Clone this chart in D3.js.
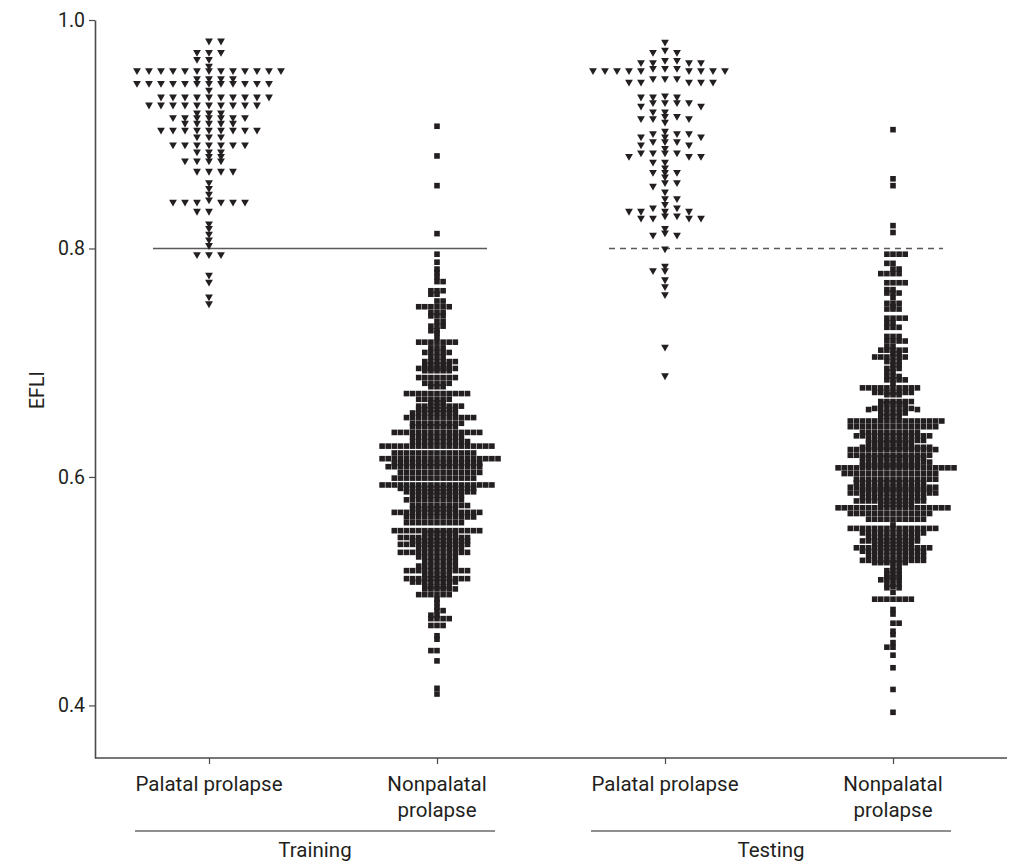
<!DOCTYPE html>
<html>
<head>
<meta charset="utf-8">
<script src="https://cdn.jsdelivr.net/npm/d3@7"></script>
<style>
body { margin: 0; background: #fff; }
svg text { font-family: "Roboto", "DejaVu Sans", sans-serif; fill: #231f20; }
</style>
</head>
<body>
<svg id="svg" width="1014" height="861"></svg>
<script>
// categories along the x axis and their (two line) labels
let categories = ["trainPal", "trainNon", "testPal", "testNon"];
let catLabels = [["Palatal prolapse"], ["Nonpalatal", "prolapse"], ["Palatal prolapse"], ["Nonpalatal", "prolapse"]];
let groupNames = ["Training", "Testing"];
let yTicks = [0.4, 0.6, 0.8, 1.0];
let cutoff = 0.8;

// EFLI values, as [value, number of markers at that value]
let trainPalatal = [
	[0.981,2],[0.971,3],[0.965,2],[0.959,1],[0.955,13],[0.948,4],[0.944,12],[0.938,1],[0.932,10],
	[0.925,10],[0.918,3],[0.914,7],[0.909,5],[0.903,9],[0.897,3],[0.890,7],[0.884,3],[0.880,2],
	[0.876,4],[0.867,4],[0.857,1],[0.852,1],[0.847,1],[0.842,1],[0.840,6],[0.832,2],[0.821,1],
	[0.817,1],[0.812,1],[0.807,1],[0.802,1],[0.794,3],[0.776,1],[0.770,1],[0.757,1],[0.751,1]
];
let trainNonpalatal = [
	[0.907,1],[0.881,1],[0.855,1],[0.813,1],[0.795,1],[0.788,1],[0.782,1],[0.779,1],[0.775,1],
	[0.771,2],[0.763,3],[0.760,2],[0.754,2],[0.749,6],[0.744,3],[0.741,3],[0.736,2],[0.732,3],
	[0.728,2],[0.726,1],[0.722,1],[0.718,7],[0.713,3],[0.709,5],[0.705,3],[0.701,6],[0.698,5],
	[0.695,7],[0.693,5],[0.687,7],[0.682,5],[0.679,3],[0.673,11],[0.668,6],[0.665,3],[0.662,8],
	[0.659,7],[0.656,8],[0.652,12],[0.647,9],[0.644,8],[0.639,15],[0.635,9],[0.631,10],[0.627,19],
	[0.621,14],[0.616,20],[0.612,15],[0.609,16],[0.604,14],[0.599,14],[0.593,19],[0.590,13],
	[0.587,12],[0.584,9],[0.580,10],[0.575,10],[0.572,8],[0.569,15],[0.565,12],[0.560,10],
	[0.553,15],[0.551,6],[0.547,12],[0.544,10],[0.541,12],[0.538,8],[0.534,12],[0.530,7],
	[0.526,6],[0.522,7],[0.518,11],[0.514,5],[0.511,11],[0.508,8],[0.504,5],[0.502,6],[0.497,6],
	[0.493,1],[0.490,1],[0.486,1],[0.483,2],[0.479,2],[0.476,4],[0.470,3],[0.461,1],[0.458,1],
	[0.448,2],[0.439,1],[0.415,1],[0.410,1]
];
let testPalatal = [
	[0.980,1],[0.973,1],[0.971,2],[0.964,2],[0.962,4],[0.957,3],[0.955,9],[0.948,3],[0.945,5],
	[0.933,1],[0.932,3],[0.927,4],[0.924,2],[0.919,2],[0.915,2],[0.913,3],[0.910,1],[0.902,1],
	[0.900,3],[0.897,3],[0.893,3],[0.890,2],[0.887,1],[0.883,4],[0.880,3],[0.875,2],[0.870,1],
	[0.866,3],[0.862,1],[0.857,2],[0.854,1],[0.849,1],[0.843,2],[0.838,1],[0.835,2],[0.832,4],
	[0.828,2],[0.826,4],[0.817,1],[0.813,1],[0.811,2],[0.799,1],[0.784,1],[0.780,2],[0.772,1],
	[0.766,1],[0.759,1],[0.713,1],[0.688,1]
];
let testNonpalatal = [
	[0.904,1],[0.861,1],[0.855,1],[0.820,1],[0.814,1],[0.795,4],[0.787,2],[0.782,2],[0.778,4],
	[0.770,4],[0.764,2],[0.761,3],[0.757,1],[0.752,3],[0.749,1],[0.747,3],[0.739,4],[0.735,2],
	[0.731,3],[0.723,3],[0.719,4],[0.714,2],[0.711,5],[0.708,2],[0.705,6],[0.701,3],[0.698,2],
	[0.695,3],[0.692,2],[0.688,3],[0.685,4],[0.682,1],[0.678,10],[0.674,7],[0.672,3],[0.666,6],
	[0.664,5],[0.660,7],[0.659,2],[0.656,5],[0.653,4],[0.649,16],[0.644,15],[0.639,10],[0.636,13],
	[0.632,10],[0.630,8],[0.626,12],[0.624,15],[0.619,14],[0.617,11],[0.613,12],[0.610,10],
	[0.608,20],[0.603,16],[0.598,14],[0.595,12],[0.591,15],[0.589,12],[0.586,15],[0.582,11],
	[0.579,12],[0.576,6],[0.573,19],[0.568,14],[0.563,10],[0.558,1],[0.555,15],[0.551,11],
	[0.547,9],[0.544,10],[0.541,7],[0.538,13],[0.535,11],[0.531,10],[0.527,11],[0.525,6],
	[0.521,2],[0.518,3],[0.515,3],[0.512,3],[0.510,4],[0.506,3],[0.504,1],[0.503,2],[0.499,1],
	[0.493,7],[0.484,1],[0.480,1],[0.472,2],[0.465,1],[0.462,1],[0.455,1],[0.451,2],[0.444,1],
	[0.433,1],[0.414,1],[0.394,1]
];

let svg = d3.select("#svg");
let ink = "#231f20";

let xScale = d3.scalePoint()
		.domain(categories)
		.range([95, 1007])
		.padding(0.5);

let yScale = d3.scaleLinear()
		.domain([0.354, 1.0])
		.range([758, 20]);

// y axis
let yAxis = svg.append("g")
		.attr("transform", "translate(95,0)")
		.call(d3.axisLeft(yScale).tickValues(yTicks).tickFormat(d3.format(".1f")).tickSize(6).tickSizeOuter(0));
yAxis.attr("font-size", null).attr("font-family", null);
yAxis.select(".domain").attr("stroke", "#4a4a4a").attr("stroke-width", 1.6);
yAxis.selectAll(".tick line").attr("stroke", "#4a4a4a").attr("stroke-width", 1.2);
yAxis.selectAll(".tick text")
		.attr("x", -10)
		.style("font-size", "19.5px")
		.attr("fill", ink);

svg.append("text")
		.attr("transform", "translate(44," + yScale(0.676) + ") rotate(-90)")
		.attr("text-anchor", "middle")
		.style("font-size", "19.5px")
		.text("EFLI");

// x axis
let xAxis = svg.append("g")
		.attr("transform", "translate(0,758)")
		.call(d3.axisBottom(xScale).tickSize(6).tickSizeOuter(0).tickFormat(""));
xAxis.select(".domain").attr("stroke", "#4a4a4a").attr("stroke-width", 1.6).attr("d", "M95,0H1007");
xAxis.selectAll(".tick line").attr("stroke", "#4a4a4a").attr("stroke-width", 1.2);

categories.forEach(function(c, i) {
	let t = svg.append("text")
		.attr("text-anchor", "middle")
		.style("font-size", "20.5px");
	catLabels[i].forEach(function(line, j) {
		t.append("tspan")
			.attr("x", xScale(c))
			.attr("y", 791 + j * 26)
			.text(line);
	});
});

// Training / Testing brackets
groupNames.forEach(function(g, i) {
	let x0 = xScale(categories[i * 2]) - 74;
	let x1 = xScale(categories[i * 2 + 1]) + 58;
	svg.append("line")
		.attr("x1", x0).attr("x2", x1)
		.attr("y1", 831).attr("y2", 831)
		.attr("stroke", ink).attr("stroke-width", 1.2);
	svg.append("text")
		.attr("x", (x0 + x1) / 2)
		.attr("y", 857)
		.attr("text-anchor", "middle")
		.style("font-size", "20.5px")
		.text(g);
});

// cut-off lines at 0.8
[0, 1].forEach(function(i) {
	svg.append("line")
		.attr("x1", xScale(categories[i * 2]) - 56)
		.attr("x2", xScale(categories[i * 2 + 1]) + 50)
		.attr("y1", yScale(cutoff)).attr("y2", yScale(cutoff))
		.attr("stroke", "#5a5a5a")
		.attr("stroke-width", 1.4)
		.attr("stroke-dasharray", i === 0 ? null : "6,5");
});

// place markers side by side so they don't overlap (scatter dot plot layout)
function dodge(rows, w, h) {
	let vals = rows.flatMap(function(r) { return d3.range(r[1]).map(function() { return r[0]; }); })
		.sort(d3.descending);
	let placed = [];
	let flip = 1;
	return vals.map(function(v) {
		let y = yScale(v);
		let blocked = placed.filter(function(p) { return Math.abs(p.y - y) < h; })
			.map(function(p) { return [p.x - w, p.x + w]; });
		let cands = [0];
		blocked.forEach(function(b) { cands.push(b[0], b[1]); });
		cands.sort(function(a, b) {
			let d = Math.abs(a) - Math.abs(b);
			if (Math.abs(d) > 1e-6) return d;
			return flip * (b - a);
		});
		let x = 0;
		for (let c of cands) {
			if (!blocked.some(function(b) { return c > b[0] + 1e-6 && c < b[1] - 1e-6; })) { x = c; break; }
		}
		if (Math.abs(x) > 1e-6) flip = -flip;
		placed.push({x: x, y: y});
		return {v: v, x: x, y: y};
	});
}

let triPath = "M-3.9,-3.1L3.9,-3.1L0,3.7Z";

function drawTriangles(rows, cat) {
	svg.append("g").selectAll("path")
		.data(dodge(rows, 12, 4.5))
		.enter().append("path")
		.attr("d", triPath)
		.attr("transform", function(d) { return "translate(" + (xScale(cat) + d.x) + "," + d.y + ")"; })
		.attr("fill", ink);
}

function drawSquares(rows, cat) {
	svg.append("g").selectAll("rect")
		.data(dodge(rows, 6.1, 1.2))
		.enter().append("rect")
		.attr("x", function(d) { return xScale(cat) + d.x - 2.8; })
		.attr("y", function(d) { return d.y - 2.8; })
		.attr("width", 5.6).attr("height", 5.6)
		.attr("fill", ink);
}

drawTriangles(trainPalatal, "trainPal");
drawSquares(trainNonpalatal, "trainNon");
drawTriangles(testPalatal, "testPal");
drawSquares(testNonpalatal, "testNon");
</script>
</body>
</html>
